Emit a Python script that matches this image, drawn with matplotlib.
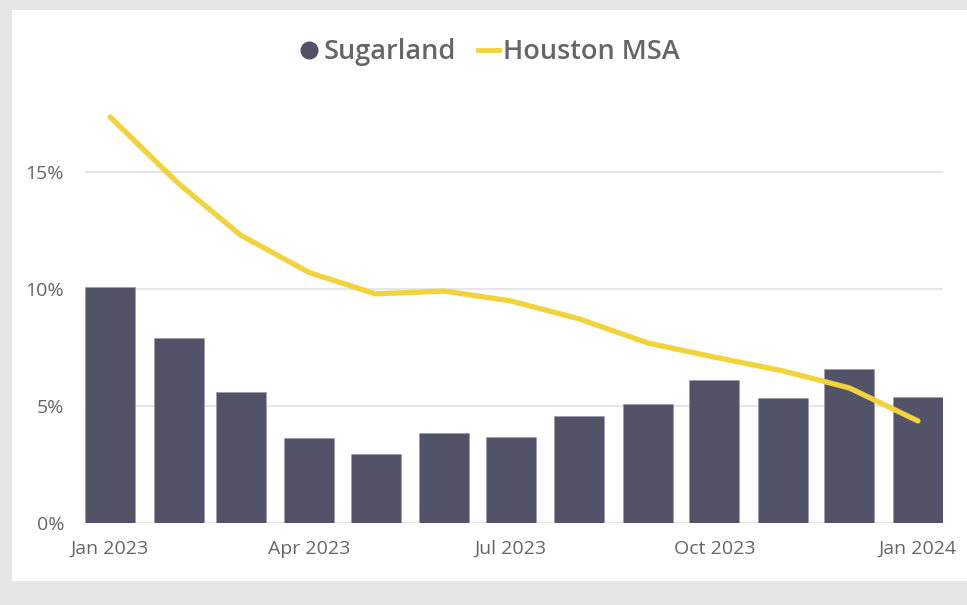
import matplotlib
matplotlib.use("Agg")
import matplotlib.pyplot as plt
import matplotlib.dates as mdates
from matplotlib.lines import Line2D
from matplotlib.patches import Rectangle
import pandas as pd

months = pd.date_range("2023-01-01", "2024-01-01", freq="MS")
sugarland = [10.1, 7.9, 5.6, 3.63, 2.95, 3.85, 3.68, 4.57, 5.09, 6.11, 5.34, 6.58, 5.38]
houston_msa = [17.35, 14.5, 12.3, 10.7, 9.79, 9.91, 9.49, 8.72, 7.69, 7.09, 6.5, 5.77, 4.36]
tick_dates = pd.to_datetime(["2023-01-01", "2023-04-01", "2023-07-01", "2023-10-01", "2024-01-01"])
tick_labels = ["Jan 2023", "Apr 2023", "Jul 2023", "Oct 2023", "Jan 2024"]
y_ticks = [0, 5, 10, 15]

BAR = "#525368"
LINE = "#F2D33C"
TEXT = "#666666"
GRID = "#E6E6E6"

plt.rcParams["font.family"] = ["Open Sans", "DejaVu Sans"]

W, H = 967, 605
fig = plt.figure(figsize=(W / 100, H / 100), dpi=100)
fig.patch.set_facecolor("#E6E6E6")
panel = Rectangle((12 / W, 1 - 581 / H), (W - 12) / W, (581 - 10) / H,
                  transform=fig.transFigure, facecolor="white",
                  edgecolor="none", zorder=-10)
fig.add_artist(panel)

ax = fig.add_axes([85 / W, 1 - 523 / H, (943 - 85) / W, (523 - 90) / H])
ax.set_zorder(5)
ax.set_facecolor("none")

bar_days = 22.6
x = mdates.date2num(months)
ax.bar(x, sugarland, width=bar_days, color=BAR, edgecolor="#9a9baa",
       linewidth=0.5, zorder=2)
ax.plot(x, houston_msa, color=LINE, linewidth=3.8, solid_capstyle="round",
        solid_joinstyle="round", zorder=3)

ax.set_xlim(x[0] - bar_days / 2, x[-1] + bar_days / 2)
ax.set_ylim(0, 18.5)
ax.set_yticks(y_ticks)
ax.set_yticklabels([f"{v}%" for v in y_ticks])
ax.set_xticks(mdates.date2num(tick_dates))
ax.set_xticklabels(tick_labels)
ax.tick_params(axis="both", length=0, colors=TEXT, labelsize=14)
ax.tick_params(axis="y", pad=15)
ax.tick_params(axis="x", pad=12)
ax.grid(axis="y", color=GRID, linewidth=1.5, zorder=0)
ax.set_axisbelow(True)
for s in ax.spines.values():
    s.set_visible(False)

handles = [
    Line2D([], [], marker="o", linestyle="none", markersize=12, color=BAR),
    Line2D([], [], color=LINE, linewidth=3.5),
]
leg = fig.legend(handles, ["Sugarland", "Houston MSA"], loc="center",
                 bbox_to_anchor=(489 / W, 1 - 52 / H), ncol=2, frameon=False,
                 prop={"size": 19.5, "weight": "semibold"}, labelcolor=TEXT,
                 handlelength=0.8, handletextpad=0.15, columnspacing=0.8)
leg.set_zorder(6)

fig.savefig("out.png", dpi=100, facecolor=fig.get_facecolor())
